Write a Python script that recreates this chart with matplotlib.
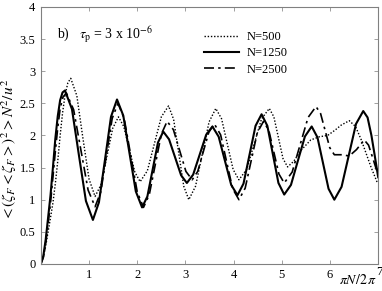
import matplotlib
matplotlib.use("Agg")
import matplotlib.pyplot as plt
from matplotlib.transforms import ScaledTranslation

plt.rcParams['font.family'] = ['Liberation Serif', 'DejaVu Serif']
plt.rcParams['mathtext.fontset'] = 'stix'

# N=500 (dotted)
x500 = [0, 0.05, 0.1, 0.15, 0.2, 0.25, 0.3, 0.35, 0.4, 0.45, 0.5, 0.56, 0.62,
        0.746, 0.87, 1.0, 1.125, 1.245, 1.37, 1.49, 1.61,
        1.72, 1.835, 1.95, 2.06, 2.21, 2.355, 2.50, 2.65,
        2.755, 2.86, 2.965, 3.07, 3.21, 3.35, 3.49, 3.63,
        3.75, 3.87, 3.99, 4.11, 4.27, 4.425, 4.58, 4.74,
        4.835, 4.93, 5.025, 5.12, 5.25, 5.40, 5.6, 5.78, 5.95, 6.1, 6.23, 6.40,
        6.53, 6.65, 6.75, 6.85, 6.99]
y500 = [0, 0.1, 0.28, 0.5, 0.72, 0.95, 1.25, 1.6, 2.0, 2.35, 2.62, 2.82, 2.89,
        2.62, 1.97, 1.32, 1.05, 1.23, 1.67, 2.11, 2.29,
        2.14, 1.785, 1.43, 1.28, 1.45, 1.87, 2.29, 2.46,
        2.25, 1.73, 1.21, 1.0, 1.21, 1.71, 2.21, 2.42,
        2.26, 1.865, 1.47, 1.31, 1.47, 1.865, 2.26, 2.42,
        2.29, 1.965, 1.64, 1.51, 1.6, 1.77, 1.93, 1.98, 2.0, 2.08, 2.16, 2.23,
        2.14, 1.93, 1.72, 1.51, 1.25]

# N=1250 (solid)
x1250 = [0, 0.05, 0.1, 0.15, 0.2, 0.25, 0.3, 0.35, 0.4, 0.45, 0.5,
         0.645, 0.79, 0.935, 1.08, 1.205, 1.33, 1.455, 1.58,
         1.71, 1.84, 1.97, 2.10, 2.21, 2.32, 2.43, 2.54,
         2.66, 2.785, 2.91, 3.03, 3.16, 3.295, 3.43, 3.56,
         3.69, 3.82, 3.95, 4.08, 4.205, 4.33, 4.455, 4.58,
         4.70, 4.815, 4.93, 5.05, 5.19, 5.335, 5.48, 5.62,
         5.74, 5.855, 5.97, 6.09, 6.24, 6.39, 6.54, 6.69,
         6.78, 6.86, 6.93, 7.0]
y1250 = [0, 0.12, 0.38, 0.72, 1.07, 1.5, 1.95, 2.3, 2.55, 2.67, 2.70,
         2.41, 1.69, 0.98, 0.685, 0.96, 1.62, 2.29, 2.56,
         2.31, 1.72, 1.13, 0.88, 1.05, 1.47, 1.89, 2.06,
         1.94, 1.66, 1.38, 1.26, 1.39, 1.70, 2.01, 2.14,
         1.98, 1.605, 1.23, 1.07, 1.25, 1.70, 2.15, 2.33,
         2.15, 1.705, 1.26, 1.08, 1.23, 1.61, 1.985, 2.14,
         1.97, 1.57, 1.17, 1.0, 1.20, 1.69, 2.18, 2.38,
         2.28, 2.0, 1.68, 1.35]

# N=2500 (dash-dot)
x2500 = [0, 0.05, 0.1, 0.15, 0.2, 0.25, 0.3, 0.35, 0.4, 0.46, 0.53,
         0.68, 0.83, 0.98, 1.125, 1.245, 1.36, 1.48, 1.60,
         1.73, 1.865, 2.0, 2.13, 2.25, 2.375, 2.50, 2.62,
         2.75, 2.88, 3.01, 3.14, 3.255, 3.37, 3.485, 3.60,
         3.73, 3.855, 3.98, 4.11, 4.24, 4.365, 4.49, 4.62,
         4.73, 4.835, 4.94, 5.05, 5.215, 5.38, 5.545, 5.71,
         5.805, 5.90, 5.995, 6.09, 6.25, 6.40, 6.55, 6.71,
         6.80, 6.9, 7.0]
y2500 = [0, 0.1, 0.32, 0.62, 0.95, 1.35, 1.75, 2.12, 2.42, 2.6, 2.66,
         2.40, 1.775, 1.15, 0.89, 1.125, 1.695, 2.265, 2.50,
         2.26, 1.69, 1.12, 0.88, 1.08, 1.55, 2.02, 2.22,
         2.09, 1.765, 1.44, 1.31, 1.44, 1.745, 2.05, 2.18,
         2.01, 1.59, 1.17, 1.0, 1.18, 1.61, 2.04, 2.22,
         2.08, 1.74, 1.40, 1.26, 1.43, 1.855, 2.28, 2.45,
         2.34, 2.075, 1.81, 1.70, 1.70, 1.68, 1.78, 1.93,
         1.85, 1.62, 1.38]

fig = plt.figure(figsize=(3.82, 2.91), dpi=100)
ax = fig.add_axes([0.107, 0.093, 0.883, 0.883])

ax.plot(x500, y500, color='black', lw=1.0, ls=(0, (1, 1.3)), label='N=500')
ax.plot(x1250, y1250, color='black', lw=1.5, ls='-', label='N=1250')
ax.plot(x2500, y2500, color='black', lw=1.2, ls=(0, (6, 2.5, 1.5, 2.5)), label='N=2500')

ax.set_xlim(0, 7)
ax.set_ylim(0, 4)
ax.set_xticks(range(8))
ax.set_xticklabels(['', '1', '2', '3', '4', '5', '6', '7'])
ax.set_yticks([0, 0.5, 1, 1.5, 2, 2.5, 3, 3.5, 4])
ax.set_yticklabels(['0', '0.5', '1', '1.5', '2', '2.5', '3', '3.5', '4'])
ax.tick_params(direction='in', length=3, width=0.6, colors='#909090',
               labelcolor='black', labelsize=9, top=True, right=True, pad=4)
for s in ax.spines.values():
    s.set_color('#808080')
    s.set_linewidth(0.8)

# the "7" sits a little higher, next to the axis label
lab7 = ax.get_xticklabels()[-1]
lab7.set_transform(lab7.get_transform() + ScaledTranslation(1/100, 3/100, fig.dpi_scale_trans))

fig.text(9/382, 1 - 150/291, r'$<(\zeta_F<\zeta_F>)^2>N^2/u^2$', fontsize=11,
         rotation=90, ha='center', va='center')
ax.text(6.18, -0.14, r'$\pi N/2\,\pi$', fontsize=10, va='top', ha='left')
ax.text(0.33, 3.56, r'b)   $\tau_\mathrm{p}$ = 3 x 10$^{-6}$', fontsize=10, va='center')

ax.legend(loc='upper left', bbox_to_anchor=(0.45, 0.95), frameon=False, fontsize=9,
          handlelength=2.8, handletextpad=0.6, labelspacing=0.35)

fig.savefig('out.png', dpi=100)
